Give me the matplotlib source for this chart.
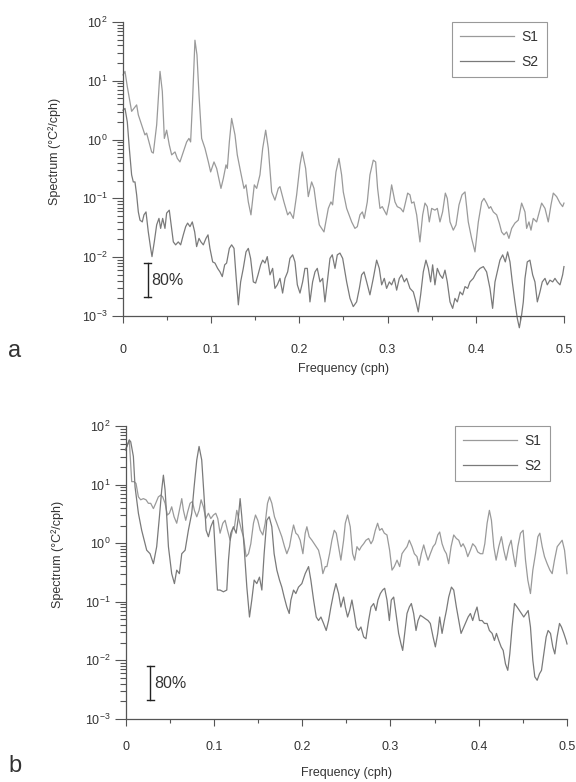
import matplotlib
matplotlib.use('Agg')
import matplotlib.pyplot as plt
import numpy as np
from matplotlib.ticker import LogLocator, MultipleLocator, FuncFormatter, NullFormatter

plt.rcParams['font.family'] = ['Liberation Sans', 'DejaVu Sans']
plt.rcParams['mathtext.fontset'] = 'custom'
plt.rcParams['mathtext.rm'] = 'Liberation Sans'

# ---------------- data: (frequency cph, log10 spectrum) ----------------
a_s1 = [(0, 1.10), (0.0023, 1.16), (0.0049, 0.90), (0.0098, 0.48), (0.0155, 0.59), (0.0174, 0.42),
        (0.0212, 0.25), (0.0249, 0.08), (0.0268, 0.11), (0.0325, -0.21), (0.0344, -0.23), (0.0382, 0.25),
        (0.0420, 1.16), (0.0446, 0.82), (0.0469, 0.02), (0.0495, 0.16), (0.0525, -0.09), (0.0552, -0.26),
        (0.0590, -0.21), (0.0616, -0.32), (0.0646, -0.38), (0.0684, -0.21), (0.0722, -0.04), (0.0748, 0.02),
        (0.0767, -0.04), (0.0790, 0.70), (0.0816, 1.69), (0.0839, 1.44), (0.0862, 0.76), (0.0892, 0.02),
        (0.0930, -0.15), (0.0968, -0.38), (0.0994, -0.55), (0.1032, -0.38), (0.1062, -0.49), (0.1111, -0.83),
        (0.1138, -0.66), (0.1168, -0.43), (0.1183, -0.49), (0.1206, -0.04), (0.1232, 0.36), (0.1270, 0.08),
        (0.1296, -0.26), (0.1334, -0.55), (0.1372, -0.83), (0.1395, -0.77), (0.1421, -1.06), (0.1451, -1.28),
        (0.1489, -0.77), (0.1516, -0.83), (0.1553, -0.60), (0.1584, -0.15), (0.1618, 0.16), (0.1648, -0.15),
        (0.1686, -0.89), (0.1723, -1.03), (0.1761, -0.83), (0.1780, -0.80), (0.1825, -1.06), (0.1867, -1.28),
        (0.1893, -1.23), (0.1931, -1.34), (0.1969, -0.94), (0.2007, -0.43), (0.2033, -0.21), (0.2071, -0.49),
        (0.2101, -0.97), (0.2139, -0.72), (0.2166, -0.83), (0.2196, -1.17), (0.2226, -1.45), (0.2279, -1.57),
        (0.2328, -1.17), (0.2358, -1.06), (0.2377, -1.11), (0.2415, -0.55), (0.2449, -0.32), (0.2479, -0.60),
        (0.2498, -0.89), (0.2536, -1.17), (0.2593, -1.40), (0.2630, -1.51), (0.2657, -1.48), (0.2687, -1.28),
        (0.2714, -1.23), (0.2736, -1.34), (0.2770, -1.06), (0.2800, -0.60), (0.2838, -0.35), (0.2865, -0.38),
        (0.2887, -0.83), (0.2914, -1.17), (0.2940, -1.14), (0.2971, -1.23), (0.2989, -1.28), (0.3020, -1.06),
        (0.3046, -0.77), (0.3084, -1.06), (0.3110, -1.14), (0.3148, -1.17), (0.3178, -1.23), (0.3205, -1.06),
        (0.3228, -0.91), (0.3254, -0.94), (0.3273, -1.08), (0.3299, -1.06), (0.3330, -1.28), (0.3367, -1.74),
        (0.3398, -1.28), (0.3424, -1.08), (0.3450, -1.14), (0.3473, -1.40), (0.3500, -1.17), (0.3537, -1.20),
        (0.3564, -1.17), (0.3594, -1.40), (0.3624, -1.23), (0.3655, -0.91), (0.3677, -1.00), (0.3708, -1.40),
        (0.3745, -1.54), (0.3776, -1.45), (0.3810, -1.11), (0.3844, -0.94), (0.3878, -0.89), (0.3915, -1.40),
        (0.3953, -1.68), (0.3991, -1.91), (0.4029, -1.40), (0.4067, -1.06), (0.4093, -1.00), (0.4123, -1.08),
        (0.4150, -1.17), (0.4169, -1.14), (0.4199, -1.23), (0.4237, -1.28), (0.4267, -1.42), (0.4293, -1.57),
        (0.4320, -1.62), (0.4350, -1.57), (0.4376, -1.68), (0.4407, -1.51), (0.4444, -1.42), (0.4482, -1.37),
        (0.4520, -1.08), (0.4558, -1.23), (0.4577, -1.51), (0.4603, -1.40), (0.4626, -1.54), (0.4652, -1.34),
        (0.4690, -1.40), (0.4720, -1.23), (0.4747, -1.08), (0.4785, -1.17), (0.4822, -1.40), (0.4853, -1.11),
        (0.4879, -0.91), (0.4917, -0.97), (0.4955, -1.08), (0.4985, -1.14), (0.5000, -1.08)]

a_s2 = [(0, 0.50), (0.0023, 0.53), (0.0049, 0.30), (0.0072, -0.15), (0.0098, -0.60), (0.0117, -0.72),
        (0.0136, -0.72), (0.0155, -0.94), (0.0174, -1.23), (0.0193, -1.37), (0.0219, -1.40), (0.0238, -1.28),
        (0.0261, -1.23), (0.0287, -1.57), (0.0314, -1.85), (0.0329, -1.99), (0.0355, -1.74), (0.0382, -1.45),
        (0.0408, -1.34), (0.0427, -1.51), (0.0450, -1.34), (0.0476, -1.51), (0.0495, -1.25), (0.0525, -1.20),
        (0.0552, -1.51), (0.0571, -1.74), (0.0597, -1.79), (0.0627, -1.74), (0.0654, -1.79), (0.0684, -1.62),
        (0.0711, -1.48), (0.0733, -1.42), (0.0760, -1.48), (0.0786, -1.40), (0.0813, -1.57), (0.0835, -1.82),
        (0.0862, -1.68), (0.0884, -1.74), (0.0911, -1.79), (0.0941, -1.68), (0.0964, -1.62), (0.0986, -1.85),
        (0.1017, -2.08), (0.1043, -2.10), (0.1073, -2.19), (0.1100, -2.25), (0.1126, -2.33), (0.1153, -2.13),
        (0.1175, -2.10), (0.1206, -1.85), (0.1232, -1.79), (0.1259, -1.85), (0.1281, -2.30), (0.1308, -2.81),
        (0.1334, -2.42), (0.1364, -2.19), (0.1395, -1.91), (0.1421, -1.85), (0.1447, -2.02), (0.1478, -2.42),
        (0.1504, -2.44), (0.1531, -2.30), (0.1561, -2.13), (0.1584, -2.05), (0.1610, -2.10), (0.1636, -1.99),
        (0.1667, -2.30), (0.1697, -2.19), (0.1723, -2.53), (0.1750, -2.47), (0.1780, -2.36), (0.1810, -2.61),
        (0.1837, -2.36), (0.1867, -2.25), (0.1893, -2.02), (0.1924, -1.96), (0.1950, -2.08), (0.1977, -2.47),
        (0.2007, -2.61), (0.2037, -2.42), (0.2063, -2.19), (0.2090, -2.19), (0.2120, -2.76), (0.2150, -2.42),
        (0.2177, -2.25), (0.2203, -2.19), (0.2234, -2.42), (0.2264, -2.36), (0.2290, -2.76), (0.2317, -2.42),
        (0.2347, -2.02), (0.2373, -1.96), (0.2404, -2.19), (0.2430, -1.96), (0.2460, -1.93), (0.2491, -2.02),
        (0.2536, -2.42), (0.2574, -2.70), (0.2611, -2.84), (0.2649, -2.76), (0.2680, -2.53), (0.2706, -2.30),
        (0.2733, -2.25), (0.2763, -2.42), (0.2800, -2.64), (0.2838, -2.36), (0.2876, -2.05), (0.2906, -2.19),
        (0.2933, -2.47), (0.2963, -2.36), (0.2989, -2.53), (0.3020, -2.42), (0.3046, -2.47), (0.3076, -2.36),
        (0.3103, -2.56), (0.3133, -2.36), (0.3159, -2.30), (0.3190, -2.42), (0.3216, -2.36), (0.3254, -2.53),
        (0.3292, -2.59), (0.3322, -2.76), (0.3348, -2.93), (0.3375, -2.64), (0.3405, -2.25), (0.3435, -2.05),
        (0.3462, -2.19), (0.3488, -2.42), (0.3511, -2.13), (0.3537, -2.47), (0.3564, -2.19), (0.3594, -2.30),
        (0.3624, -2.36), (0.3651, -2.22), (0.3677, -2.42), (0.3708, -2.76), (0.3738, -2.87), (0.3764, -2.70),
        (0.3791, -2.76), (0.3821, -2.59), (0.3851, -2.64), (0.3878, -2.50), (0.3908, -2.53), (0.3934, -2.42),
        (0.3972, -2.36), (0.4010, -2.25), (0.4048, -2.19), (0.4086, -2.16), (0.4123, -2.25), (0.4161, -2.53),
        (0.4191, -2.87), (0.4218, -2.42), (0.4244, -2.25), (0.4274, -2.05), (0.4305, -1.96), (0.4335, -2.08),
        (0.4361, -1.91), (0.4388, -2.08), (0.4414, -2.42), (0.4444, -2.76), (0.4471, -3.04), (0.4494, -3.20),
        (0.4520, -2.98), (0.4539, -2.76), (0.4558, -2.36), (0.4584, -2.08), (0.4614, -2.05), (0.4645, -2.30),
        (0.4671, -2.42), (0.4698, -2.76), (0.4728, -2.59), (0.4754, -2.42), (0.4785, -2.36), (0.4811, -2.47),
        (0.4841, -2.39), (0.4872, -2.42), (0.4898, -2.36), (0.4924, -2.42), (0.4955, -2.47), (0.4985, -2.30),
        (0.5000, -2.16)]

b_s1 = [(0, 1.59), (0.0043, 1.76), (0.0070, 1.05), (0.0096, 1.05), (0.0119, 1.02), (0.0146, 0.79),
        (0.0172, 0.74), (0.0202, 0.76), (0.0232, 0.74), (0.0259, 0.68), (0.0285, 0.68), (0.0316, 0.59),
        (0.0342, 0.68), (0.0372, 0.79), (0.0399, 0.82), (0.0421, 0.79), (0.0448, 0.68), (0.0474, 0.48),
        (0.0497, 0.51), (0.0523, 0.62), (0.0550, 0.45), (0.0580, 0.34), (0.0610, 0.56), (0.0637, 0.76),
        (0.0656, 0.56), (0.0682, 0.39), (0.0705, 0.54), (0.0731, 0.68), (0.0758, 0.71), (0.0780, 0.56),
        (0.0807, 0.45), (0.0833, 0.56), (0.0856, 0.74), (0.0882, 0.62), (0.0909, 0.42), (0.0939, 0.51),
        (0.0966, 0.42), (0.0996, 0.48), (0.1022, 0.51), (0.1045, 0.42), (0.1071, 0.17), (0.1102, 0.34),
        (0.1128, 0.39), (0.1155, 0.22), (0.1185, 0.05), (0.1211, 0.22), (0.1234, 0.28), (0.1260, 0.56),
        (0.1287, 0.39), (0.1313, 0.22), (0.1336, 0.11), (0.1366, -0.23), (0.1393, -0.18), (0.1419, -0.01),
        (0.1449, 0.34), (0.1472, 0.48), (0.1498, 0.39), (0.1525, 0.22), (0.1555, 0.14), (0.1582, 0.34),
        (0.1608, 0.68), (0.1631, 0.79), (0.1657, 0.68), (0.1687, 0.45), (0.1714, 0.34), (0.1744, 0.22),
        (0.1770, 0.11), (0.1801, -0.06), (0.1827, -0.18), (0.1857, -0.06), (0.1884, 0.17), (0.1903, 0.31),
        (0.1929, 0.17), (0.1952, 0.14), (0.1978, 0.05), (0.2009, -0.18), (0.2035, 0.17), (0.2054, 0.28),
        (0.2080, 0.11), (0.2111, 0.05), (0.2137, -0.01), (0.2160, -0.06), (0.2186, -0.12), (0.2213, -0.29),
        (0.2235, -0.52), (0.2262, -0.40), (0.2281, -0.40), (0.2311, -0.18), (0.2337, 0.05), (0.2364, 0.22),
        (0.2387, 0.17), (0.2413, -0.06), (0.2439, -0.29), (0.2470, 0.05), (0.2489, 0.34), (0.2515, 0.48),
        (0.2545, 0.28), (0.2572, -0.18), (0.2595, -0.29), (0.2621, -0.06), (0.2648, -0.12), (0.2670, -0.06),
        (0.2697, -0.01), (0.2723, 0.05), (0.2753, 0.08), (0.2780, -0.01), (0.2802, 0.05), (0.2829, 0.22),
        (0.2855, 0.34), (0.2878, 0.22), (0.2904, 0.25), (0.2931, 0.17), (0.2961, 0.14), (0.2991, -0.12),
        (0.3018, -0.46), (0.3044, -0.40), (0.3075, -0.29), (0.3105, -0.40), (0.3131, -0.18), (0.3158, -0.12),
        (0.3188, -0.06), (0.3214, 0.05), (0.3245, -0.06), (0.3271, -0.18), (0.3301, -0.23), (0.3324, -0.38),
        (0.3350, -0.18), (0.3377, -0.03), (0.3403, -0.18), (0.3426, -0.29), (0.3452, -0.18), (0.3483, -0.06),
        (0.3509, -0.01), (0.3536, 0.14), (0.3558, 0.19), (0.3585, -0.01), (0.3611, -0.12), (0.3634, -0.18),
        (0.3660, -0.35), (0.3687, -0.06), (0.3717, 0.14), (0.3747, 0.08), (0.3774, 0.05), (0.3800, -0.06),
        (0.3823, -0.01), (0.3849, -0.09), (0.3876, -0.23), (0.3906, -0.12), (0.3932, -0.01), (0.3963, -0.06),
        (0.3989, -0.15), (0.4019, -0.18), (0.4046, -0.18), (0.4069, -0.01), (0.4095, 0.34), (0.4121, 0.56),
        (0.4144, 0.39), (0.4171, -0.06), (0.4197, -0.29), (0.4227, -0.06), (0.4257, 0.11), (0.4284, -0.12),
        (0.4310, -0.29), (0.4341, -0.06), (0.4367, 0.05), (0.4390, -0.18), (0.4416, -0.40), (0.4443, -0.06),
        (0.4473, 0.17), (0.4503, 0.22), (0.4530, -0.29), (0.4556, -0.63), (0.4586, -0.86), (0.4613, -0.46),
        (0.4643, -0.18), (0.4670, 0.11), (0.4692, 0.17), (0.4719, -0.06), (0.4745, -0.23), (0.4775, -0.35),
        (0.4806, -0.46), (0.4832, -0.52), (0.4858, -0.29), (0.4889, -0.06), (0.4915, -0.01), (0.4945, 0.05),
        (0.4972, -0.12), (0.5000, -0.52)]

b_s2 = [(0, 1.59), (0.0043, 1.76), (0.0059, 1.73), (0.0089, 1.48), (0.0108, 0.96), (0.0146, 0.51),
        (0.0183, 0.22), (0.0240, -0.12), (0.0278, -0.18), (0.0316, -0.35), (0.0353, -0.06), (0.0384, 0.45),
        (0.0410, 0.91), (0.0429, 1.16), (0.0448, 0.91), (0.0467, 0.45), (0.0486, -0.06), (0.0523, -0.52),
        (0.0554, -0.69), (0.0580, -0.46), (0.0610, -0.52), (0.0637, -0.18), (0.0675, -0.12), (0.0712, 0.22),
        (0.0750, 0.51), (0.0777, 0.96), (0.0807, 1.42), (0.0833, 1.65), (0.0863, 1.42), (0.0890, 0.79),
        (0.0913, 0.22), (0.0939, 0.11), (0.0966, 0.28), (0.0996, 0.39), (0.1015, -0.12), (0.1041, -0.80),
        (0.1071, -0.80), (0.1109, -0.83), (0.1147, -0.80), (0.1166, -0.29), (0.1192, 0.17), (0.1222, 0.28),
        (0.1253, 0.17), (0.1279, 0.45), (0.1298, 0.76), (0.1317, 0.45), (0.1343, -0.06), (0.1374, -0.75),
        (0.1404, -1.26), (0.1430, -0.97), (0.1457, -0.63), (0.1487, -0.69), (0.1517, -0.58), (0.1544, -0.80),
        (0.1570, -0.18), (0.1600, 0.39), (0.1627, 0.45), (0.1657, 0.28), (0.1683, -0.18), (0.1714, -0.46),
        (0.1744, -0.63), (0.1770, -0.75), (0.1797, -0.92), (0.1827, -1.09), (0.1854, -1.20), (0.1873, -0.97),
        (0.1903, -0.80), (0.1929, -0.86), (0.1959, -0.75), (0.1997, -0.69), (0.2035, -0.52), (0.2073, -0.40),
        (0.2099, -0.63), (0.2130, -0.97), (0.2160, -1.26), (0.2186, -1.32), (0.2213, -1.26), (0.2243, -1.37),
        (0.2273, -1.49), (0.2300, -1.32), (0.2326, -1.09), (0.2356, -0.86), (0.2383, -0.69), (0.2413, -0.86),
        (0.2439, -1.09), (0.2470, -0.92), (0.2489, -1.09), (0.2515, -1.26), (0.2538, -1.15), (0.2564, -0.97),
        (0.2591, -1.20), (0.2614, -1.43), (0.2640, -1.49), (0.2666, -1.43), (0.2697, -1.60), (0.2723, -1.63),
        (0.2753, -1.32), (0.2780, -1.09), (0.2810, -1.03), (0.2836, -1.15), (0.2859, -0.97), (0.2886, -0.86),
        (0.2912, -0.80), (0.2935, -0.77), (0.2961, -0.97), (0.2988, -1.32), (0.3010, -0.97), (0.3037, -0.92),
        (0.3063, -1.20), (0.3093, -1.54), (0.3120, -1.72), (0.3139, -1.83), (0.3161, -1.54), (0.3188, -1.20),
        (0.3214, -1.09), (0.3237, -1.03), (0.3263, -1.20), (0.3290, -1.49), (0.3313, -1.32), (0.3339, -1.23),
        (0.3369, -1.26), (0.3396, -1.29), (0.3426, -1.32), (0.3452, -1.37), (0.3483, -1.60), (0.3509, -1.77),
        (0.3536, -1.54), (0.3558, -1.26), (0.3585, -1.54), (0.3611, -1.32), (0.3634, -1.15), (0.3660, -0.92),
        (0.3691, -0.75), (0.3717, -0.80), (0.3747, -1.09), (0.3774, -1.32), (0.3800, -1.54), (0.3831, -1.43),
        (0.3857, -1.34), (0.3880, -1.26), (0.3906, -1.20), (0.3932, -1.32), (0.3955, -1.20), (0.3981, -1.09),
        (0.4008, -1.32), (0.4038, -1.32), (0.4065, -1.37), (0.4095, -1.37), (0.4121, -1.49), (0.4152, -1.54),
        (0.4178, -1.66), (0.4201, -1.54), (0.4227, -1.66), (0.4254, -1.77), (0.4277, -1.83), (0.4303, -2.06),
        (0.4329, -2.17), (0.4352, -1.89), (0.4378, -1.43), (0.4405, -1.03), (0.4435, -1.09), (0.4461, -1.15),
        (0.4484, -1.20), (0.4510, -1.26), (0.4537, -1.20), (0.4560, -1.15), (0.4586, -1.43), (0.4613, -2.00),
        (0.4635, -2.28), (0.4662, -2.34), (0.4688, -2.23), (0.4711, -2.17), (0.4737, -1.89), (0.4764, -1.60),
        (0.4786, -1.49), (0.4813, -1.54), (0.4839, -1.77), (0.4862, -1.89), (0.4888, -1.60), (0.4915, -1.37),
        (0.4937, -1.43), (0.4964, -1.54), (0.4990, -1.66), (0.5000, -1.72)]

series_labels = ["S1", "S2"]
panel_labels = ["a", "b"]
conf_label = "80%"
conf_freq = 0.028
conf_low, conf_high = 0.0021, 0.0079
x_ticks = [0, 0.1, 0.2, 0.3, 0.4, 0.5]

# ---------------- drawing ----------------
fig = plt.figure(figsize=(5.76, 7.82), dpi=100)
axA = fig.add_axes([0.2135, 0.5959, 0.7656, 0.3760])
axB = fig.add_axes([0.2179, 0.0806, 0.7665, 0.3747])

c_s1 = '#9a9a9a'
c_s2 = '#7a7a7a'
txt = '#333333'
spine_c = '#555555'


def fmt_x(v, pos):
    return '0' if abs(v) < 1e-9 else '%.1f' % v


def draw(ax, s1, s2, xlab_off, tick_pad, leg_top):
    f1, l1 = zip(*s1)
    f2, l2 = zip(*s2)
    ax.plot(f1, 10 ** np.array(l1), color=c_s1, lw=0.9, label=series_labels[0], clip_on=False)
    ax.plot(f2, 10 ** np.array(l2), color=c_s2, lw=0.9, label=series_labels[1], clip_on=False)
    ax.set_yscale('log')
    ax.set_ylim(1e-3, 1e2)
    ax.set_xlim(0, 0.5)
    for s in ('top', 'right'):
        ax.spines[s].set_visible(False)
    for s in ('left', 'bottom'):
        ax.spines[s].set_color(spine_c)
        ax.spines[s].set_linewidth(0.9)
    ax.set_xticks(x_ticks)
    ax.xaxis.set_minor_locator(MultipleLocator(0.05))
    ax.xaxis.set_major_formatter(FuncFormatter(fmt_x))
    ax.yaxis.set_major_locator(LogLocator(base=10, numticks=10))
    ax.yaxis.set_minor_locator(LogLocator(base=10, subs=np.arange(2, 10), numticks=10))
    ax.yaxis.set_minor_formatter(NullFormatter())
    ax.tick_params(axis='both', which='both', direction='out', color=spine_c, labelcolor=txt, width=0.8)
    ax.tick_params(axis='y', which='major', length=8, pad=3, labelsize=9)
    ax.tick_params(axis='y', which='minor', length=4)
    ax.tick_params(axis='x', which='major', length=5, pad=tick_pad, labelsize=9)
    ax.tick_params(axis='x', which='minor', length=3)
    # confidence bar
    ax.plot([conf_freq, conf_freq], [conf_low, conf_high], color='#222222', lw=1.0)
    ax.plot([conf_freq - 0.004, conf_freq + 0.004], [conf_low, conf_low], color='#222222', lw=1.0)
    ax.plot([conf_freq - 0.004, conf_freq + 0.004], [conf_high, conf_high], color='#222222', lw=1.0)
    ax.text(conf_freq + 0.004, np.sqrt(conf_low * conf_high), conf_label, fontsize=11.5,
            color=txt, va='center', ha='left')
    ax.text(0.5, xlab_off, 'Frequency (cph)', transform=ax.transAxes, ha='center', va='center',
            fontsize=9, color=txt)
    ax.text(-0.154, 0.56, 'Spectrum (°C²/cph)', transform=ax.transAxes, rotation=90,
            ha='center', va='center', fontsize=9, color=txt)
    leg = ax.legend(loc='upper right', bbox_to_anchor=(0.961, leg_top), borderaxespad=0,
                    fancybox=False, edgecolor='#999999', framealpha=1, fontsize=10,
                    handlelength=3.9, handletextpad=0.5, borderpad=0.6, labelspacing=0.75)
    leg.get_frame().set_linewidth(0.8)
    for t in leg.get_texts():
        t.set_color(txt)


draw(axA, a_s1, a_s2, -0.18, 15.5, 1.0)
draw(axB, b_s1, b_s2, -0.185, 11, 1.0)

fig.text(15 / 576, 1 - 351 / 782, panel_labels[0], fontsize=17, color=txt, ha='center', va='center')
fig.text(15 / 576, 1 - 766 / 782, panel_labels[1], fontsize=17, color=txt, ha='center', va='center')

fig.savefig('out.png', dpi=100, facecolor='white')
